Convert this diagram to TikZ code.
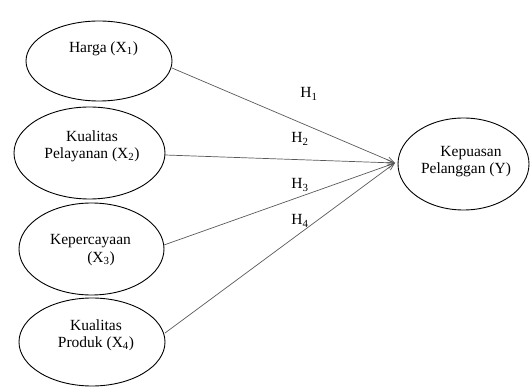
\documentclass[tikz,border=0pt]{standalone}
\usepackage{fontspec}
\setmainfont{Liberation Serif}
\usetikzlibrary{arrows.meta,shapes.geometric}
\tikzset{
  oval/.style={draw=black, line width=0.9pt, ellipse, inner sep=0pt},
  txt/.style={align=center, inner sep=0pt, font=\fontsize{15.5}{17}\selectfont},
  hlab/.style={inner sep=0pt, font=\fontsize{15.5}{17}\selectfont},
  conn/.style={draw=black!65, line width=0.7pt, -{Straight Barb[length=7pt,width=6pt]}}
}
\begin{document}
\begin{tikzpicture}[x=1pt,y=-1pt]
\useasboundingbox (0,0) rectangle (530,387);
% ellipses
\node[oval, minimum width=146pt, minimum height=80pt] (x1) at (99,61) {};
\node[oval, minimum width=151pt, minimum height=92pt] (x2) at (89.5,153) {};
\node[oval, minimum width=145pt, minimum height=92pt] (x3) at (91.5,249) {};
\node[oval, minimum width=146pt, minimum height=88pt] (x4) at (92,342) {};
\node[oval, minimum width=131pt, minimum height=92pt] (y) at (463.5,164) {};
% texts
\node[txt] (t1) at (103.5,49) {Harga (X\textsubscript{1})};
\node[txt] (t2) at (92,146) {Kualitas\\Pelayanan (X\textsubscript{2})};
\node[txt] (t3a) at (90.5,241) {Kepercayaan};
\node[txt] (t3b) at (101,259) {(X\textsubscript{3})};
\node[txt] (t4) at (96,335) {Kualitas\\Produk (X\textsubscript{4})};
\node[txt] (ty) at (466,162) {\hspace*{10pt}Kepuasan\\Pelanggan (Y)};
% hypothesis labels
\node[hlab] (h1) at (309,94) {H\textsubscript{1}};
\node[hlab] (h2) at (300,139) {H\textsubscript{2}};
\node[hlab] (h3) at (300,185) {H\textsubscript{3}};
\node[hlab] (h4) at (300,221) {H\textsubscript{4}};
% connectors
\coordinate (tip) at (395,163);
\coordinate (s1) at (172,68);
\coordinate (s2) at (165,155);
\coordinate (s3) at (164,245);
\coordinate (s4) at (165,333);
\draw[conn] (s1) -- (tip);
\draw[conn] (s2) -- (tip);
\draw[conn] (s3) -- (tip);
\draw[conn] (s4) -- (tip);
\end{tikzpicture}
\end{document}
